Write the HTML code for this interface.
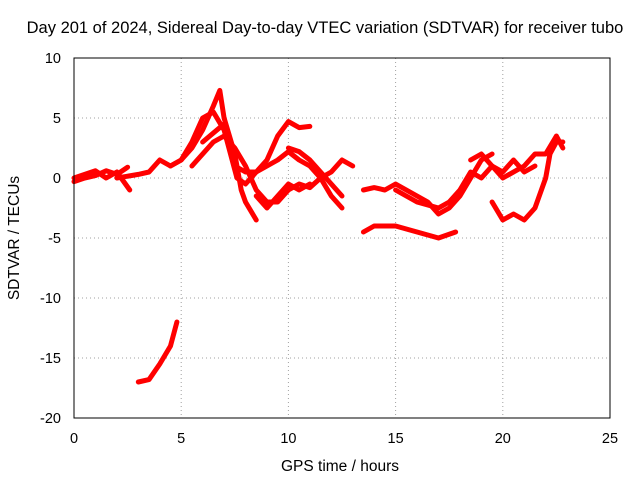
<!DOCTYPE html>
<html><head><meta charset="utf-8"><style>
body{margin:0;background:#fff}
text{font-family:"Liberation Sans",sans-serif;font-size:14.5px;fill:#000}
</style></head><body>
<svg id="chart" width="640" height="480">
<rect width="640" height="480" fill="#fff"/>
<text x="325" y="33" text-anchor="middle" style="font-size:16.5px">Day 201 of 2024, Sidereal Day-to-day VTEC variation (SDTVAR) for receiver tubo</text>
<text x="340" y="471" text-anchor="middle" style="font-size:15.5px">GPS time / hours</text>
<text transform="translate(19,238) rotate(-90)" text-anchor="middle" style="font-size:15.5px">SDTVAR / TECUs</text>
<g id="grid"></g><g id="series"></g>
<rect x="74" y="58" width="536" height="360" fill="none" stroke="#000"/>
</svg>
<script>
const xTicks=[0,5,10,15,20,25];
const yTicks=[10,5,0,-5,-10,-15,-20];
const s1=[[0,0],[0.5,0.3],[1,0.6],[1.5,0],[2,0.5],[2.4,-0.5],[2.6,-1]];
const s2=[[0,-0.3],[0.5,0],[1,0.2],[1.5,0.6],[2,0.3],[2.5,0.9]];
const s3=[[2,0],[3,0.3],[3.5,0.5],[4,1.5],[4.5,1],[5,1.5],[5.5,2.5],[6,4],[6.5,6],[6.8,7.3],[7,5],[7.5,2],[7.8,-1],[8,-2],[8.5,-3.5]];
const s4=[[4.5,1],[5,1.5],[5.5,3],[6,5],[6.5,5.5],[7,4],[7.3,2],[7.6,0],[8,-0.5],[8.5,0.5],[9,1.5],[9.5,3.5],[10,4.7],[10.5,4.2],[11,4.3]];
const s5=[[5.5,1],[6,2],[6.5,3],[7,3.5],[7.5,2.5],[8,1],[8.5,-1],[9,-2],[9.5,-2],[10,-1],[10.5,-0.5],[11,-0.8],[11.5,0],[12,0.5],[12.5,1.5],[13,1]];
const s6=[[6,3],[7,4.5],[7.5,1],[8,0.5],[8.5,0.5],[9,1],[9.5,1.5],[10,2.2],[10.5,1.5],[11,1],[11.5,0],[12,-1.5],[12.5,-2.5]];
const s7=[[8.5,-1.5],[9,-2.5],[9.5,-1.5],[10,-0.5],[10.5,-1],[11,-0.5]];
const s8=[[10,2.5],[10.5,2.2],[11,1.5],[11.5,0.5],[12,-0.5],[12.5,-1.5]];
const s9=[[13.5,-1],[14,-0.8],[14.5,-1],[15,-0.5],[15.5,-1],[16,-1.5],[16.5,-2],[17,-3],[17.5,-2.5],[18,-1.5],[18.5,0],[19,1.5],[19.5,2]];
const s10=[[13.5,-4.5],[14,-4],[15,-4],[16,-4.5],[17,-5],[17.8,-4.5]];
const s11=[[15,-1],[16,-2],[17,-2.5],[17.5,-2],[18,-1],[18.5,0.5],[19,0],[19.5,1],[20,0.5],[20.5,1.5],[21,0.5],[21.5,1]];
const s12=[[19.5,-2],[20,-3.5],[20.5,-3],[21,-3.5],[21.5,-2.5],[22,0],[22.2,2],[22.5,3],[22.8,3]];
const s13=[[18.5,1.5],[19,2],[20,0],[21,1],[21.5,2],[22,2],[22.5,3.5],[22.8,2.5]];
const s14=[[3,-17],[3.5,-16.8],[4,-15.5],[4.5,-14],[4.8,-12]];
const allSeries=[s1,s2,s3,s4,s5,s6,s7,s8,s9,s10,s11,s12,s13,s14];
const X=v=>74+v*536/25, Y=v=>418-(v+20)*12;
const ns="http://www.w3.org/2000/svg";
const g=document.getElementById('grid'), sg=document.getElementById('series');
xTicks.forEach(t=>{
 const l=document.createElementNS(ns,'line');
 
 
 l.setAttribute('x1',X(t));l.setAttribute('x2',X(t));l.setAttribute('y1',58);l.setAttribute('y2',418);
 l.setAttribute('stroke',t>0&&t<25?'#a0a0a0':'none');l.setAttribute('stroke-dasharray','1,3');g.appendChild(l);
 const tx=document.createElementNS(ns,'text');
 
 
 tx.setAttribute('x',X(t));tx.setAttribute('y',443);tx.setAttribute('text-anchor','middle');tx.textContent=t;g.appendChild(tx);
});
yTicks.forEach(t=>{
 const l=document.createElementNS(ns,'line');
 
 
 l.setAttribute('x1',74);l.setAttribute('x2',610);l.setAttribute('y1',Y(t));l.setAttribute('y2',Y(t));
 l.setAttribute('stroke',t>-20&&t<10?'#a0a0a0':'none');l.setAttribute('stroke-dasharray','1,3');g.appendChild(l);
 const tx=document.createElementNS(ns,'text');
 
 
 tx.setAttribute('x',61);tx.setAttribute('y',Y(t)+5);tx.setAttribute('text-anchor','end');tx.textContent=t;g.appendChild(tx);
});
allSeries.forEach((s,i)=>{
 const p=document.createElementNS(ns,'polyline');
 
 
 p.setAttribute('points',s.map(d=>X(d[0])+','+Y(d[1])).join(' '));
 p.setAttribute('fill','none');p.setAttribute('stroke','#f00');p.setAttribute('stroke-width','5');
 p.setAttribute('stroke-linejoin','round');p.setAttribute('stroke-linecap','round');
 sg.appendChild(p);
});
</script>
</body></html>
